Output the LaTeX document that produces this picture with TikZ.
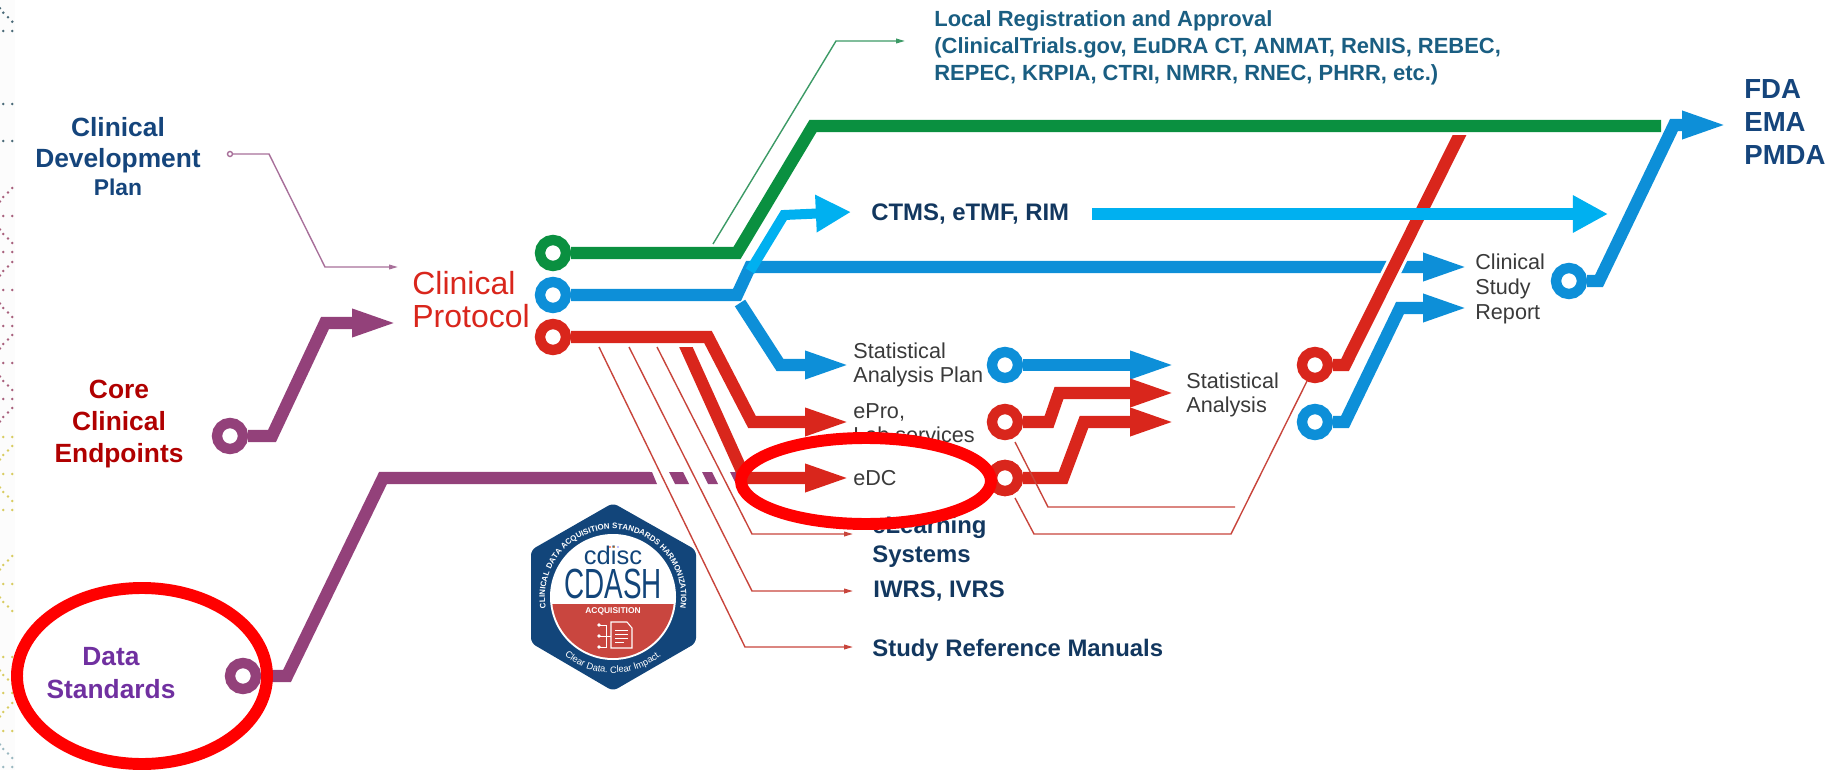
\documentclass[tikz,border=0pt]{standalone}
\usepackage{fontspec}
\setmainfont{Liberation Sans}
\usetikzlibrary{arrows.meta,decorations.text}
\definecolor{trackgreen}{HTML}{0A9040}
\definecolor{trackblue}{HTML}{0D8FD8}
\definecolor{trackcyan}{HTML}{00B0F0}
\definecolor{trackred}{HTML}{D9261C}
\definecolor{trackpurple}{HTML}{93417A}
\definecolor{thinred}{HTML}{C8453C}
\definecolor{thingreen}{HTML}{3C9A66}
\definecolor{thinpurple}{HTML}{A8709A}
\definecolor{labelgray}{HTML}{3A3A3A}
\definecolor{labelnavy}{HTML}{12375F}
\definecolor{labelteal}{HTML}{1A5E82}
\definecolor{labelblue}{HTML}{15457C}
\definecolor{labelcrimson}{HTML}{B00000}
\definecolor{labelviolet}{HTML}{7030A0}
\definecolor{cdashnavy}{HTML}{12457A}
\definecolor{cdashred}{HTML}{C9463F}
\definecolor{stripteal}{HTML}{4A6A78}
\definecolor{stripmaroon}{HTML}{A8607C}
\definecolor{stripyellow}{HTML}{D8CC60}
\definecolor{strippale}{HTML}{9AB8C0}
\tikzset{
  ringnode/.style={circle,draw=#1,fill=white,line width=5.9pt,minimum size=0.52cm,inner sep=0pt},
  fatline/.style={draw=#1,line width=7pt},
  thinline/.style={draw=#1,line width=0.8pt},
  bigtip/.style={-{Triangle[length=26.7pt,width=14pt]}},
  cyantip/.style={-{Triangle[length=20pt,width=20pt]}},
  smalltip/.style={-{Triangle[length=5pt,width=2.6pt]}},
  graylabel/.style={anchor=west,align=left,inner sep=0pt,text=labelgray,font=\fontsize{12.3pt}{14pt}\selectfont},
  navylabel/.style={anchor=west,align=left,inner sep=0pt,text=labelnavy,font=\fontsize{13.6pt}{16.4pt}\selectfont\bfseries},
  sidelabel/.style={align=center,inner sep=0pt,text=#1,font=\fontsize{15pt}{18.3pt}\selectfont\bfseries},
  redloop/.style={draw=red,line width=6.8pt}
}
\begin{document}
\begin{tikzpicture}[x=0.02cm,y=-0.02cm]
  \useasboundingbox (0,0) rectangle (1829,770);
  \fill [black!1!white] (0,0) rectangle (15,770);
  \foreach \dotcol/\ya in {stripteal/31,stripteal/104,stripteal/141,stripmaroon/216,stripmaroon/252,stripmaroon/290,stripmaroon/326,stripmaroon/363,stripmaroon/399,stripyellow/437,stripyellow/474,stripyellow/510,stripyellow/584,stripyellow/657,stripyellow/693,stripyellow/731,strippale/767}
    \fill [\dotcol] (3.3,\ya) circle (1.4) (12.3,\ya) circle (1.4);
  \foreach \dotcol/\ya in {stripteal/12.7,stripmaroon/234,stripmaroon/308,stripmaroon/381,stripyellow/492,stripyellow/602,stripyellow/675,strippale/749}
    \fill [\dotcol] (0,\ya-4.5) circle (1.4) (3.3,\ya) circle (1.4) (8,\ya+4.5) circle (1.4) (12.3,\ya+9) circle (1.4);
  \foreach \dotcol/\ya in {stripmaroon/188,stripmaroon/262,stripmaroon/335,stripmaroon/408,stripyellow/446,stripyellow/556,stripyellow/703}
    \fill [\dotcol] (12.3,\ya) circle (1.4) (8,\ya+4.5) circle (1.4) (3.3,\ya+9) circle (1.4) (0,\ya+13.5) circle (1.4);

  \node [sidelabel=labelblue] (cdp) at (118,157) {Clinical\\[-1pt]Development\\[-2pt]{\fontsize{13pt}{16pt}\selectfont Plan}};
  \node [sidelabel=labelcrimson] (core) at (119,424) {Core\\Clinical\\Endpoints};
  \node [sidelabel=labelviolet] (datastd) at (111,673) {Data\\Standards};
  \node [anchor=west,align=left,inner sep=0pt,text=trackred,font=\fontsize{18.2pt}{18.8pt}\selectfont] (protocol) at (412,300) {Clinical\\Protocol};
  \node [anchor=west,align=left,inner sep=0pt,text=labelteal,font=\fontsize{12.5pt}{15.4pt}\selectfont\bfseries] (localreg) at (934,48) {Local Registration and Approval\\(ClinicalTrials.gov, EuDRA CT, ANMAT, ReNIS, REBEC,\\REPEC, KRPIA, CTRI, NMRR, RNEC, PHRR, etc.)};
  \node [anchor=west,align=left,inner sep=0pt,text=labelblue,font=\fontsize{15.7pt}{18.6pt}\selectfont\bfseries] (regulators) at (1744,122) {FDA\\EMA\\PMDA};
  \node [navylabel] (ctms) at (871,214) {CTMS, eTMF, RIM};
  \node [graylabel] (sap) at (853,365) {Statistical\\Analysis Plan};
  \node [graylabel] (epro) at (853,423) {ePro,\\Lab services};
  \node [graylabel] (edc) at (853,478) {eDC};
  \node [navylabel] (elearn) at (872,542) {eLearning\\Systems};
  \node [navylabel] (iwrs) at (873,591) {IWRS, IVRS};
  \node [navylabel] (srm) at (872,650) {Study Reference Manuals};
  \node [graylabel] (stats) at (1186,395) {Statistical\\Analysis};
  \node [graylabel] (csr) at (1475,289) {Clinical\\Study\\Report};

  \node [ringnode=thinpurple,line width=0.8pt,minimum size=0.1cm] (cdpring) at (230,154) {};
  \node [ringnode=trackpurple] (corering) at (230,436) {};
  \node [ringnode=trackpurple] (datastdring) at (243,676) {};
  \node [ringnode=trackgreen] (greenring) at (553,253) {};
  \node [ringnode=trackblue] (bluering) at (553,295) {};
  \node [ringnode=trackred] (redring) at (553,337) {};
  \node [ringnode=trackblue] (sapring) at (1005,365) {};
  \node [ringnode=trackred] (eproring) at (1005,422) {};
  \node [ringnode=trackred] (edcring) at (1005,478) {};
  \node [ringnode=trackred] (statsredring) at (1315,365) {};
  \node [ringnode=trackblue] (statsbluering) at (1315,422) {};
  \node [ringnode=trackblue] (csrring) at (1569,281) {};

  \coordinate (cdptip) at (398,267);
  \coordinate (coretip) at (399,323);
  \coordinate (localtip) at (905,41);
  \coordinate (localfoot) at (713,244);
  \coordinate (greenend) at (1661,126);
  \coordinate (ctmstip) at (851,212);
  \coordinate (ctmsout) at (1092,214);
  \coordinate (ctmsend) at (1608,214);
  \coordinate (csrtipa) at (1470,267);
  \coordinate (csrtipb) at (1470,308);
  \coordinate (regtip) at (1729,125);
  \coordinate (saptip) at (852,365);
  \coordinate (eprotip) at (852,422);
  \coordinate (edctip) at (852,478);
  \coordinate (statstipa) at (1177,365);
  \coordinate (statstipb) at (1177,393);
  \coordinate (statstipc) at (1177,422);
  \coordinate (elearntip) at (853,534);
  \coordinate (iwrstip) at (853,591);
  \coordinate (srmtip) at (853,647);
  \coordinate (eproend) at (1235,507);

  \draw [thinline=thinpurple,smalltip] (cdpring) -- (269,154) -- (325,267) -- (cdptip);
  \draw [fatline=trackpurple,bigtip] (corering) -- (272,436) -- (325,323) -- (coretip);
  \draw [fatline=trackpurple] (datastdring) -- (287,676) -- (383,478) -- (650,478);
  \fill [trackpurple] (650,472) -- (652,472) -- (657,484) -- (650,484) -- cycle;
  \fill [trackpurple] (669,472) -- (683,472) -- (689,484) -- (675,484) -- cycle;
  \fill [trackpurple] (702,472) -- (712,472) -- (718,484) -- (708,484) -- cycle;
  \fill [trackpurple] (730,472) -- (740,472) -- (746,484) -- (736,484) -- cycle;

  \draw [thinline=thingreen,smalltip] (localfoot) -- (836,41) -- (localtip);
  \draw [fatline=trackgreen] (greenring) -- (737,253) -- (813,126) -- (greenend);

  \draw [fatline=trackblue,bigtip] (bluering) -- (737,295) -- (750,267) -- (csrtipa);
  \draw [fatline=trackblue,bigtip] (740,303) -- (780,365) -- (saptip);
  \draw [fatline=trackcyan,line width=5.7pt,cyantip] (750,271) -- (784,215) -- (ctmstip);

  \draw [thinline=thinred,smalltip] (599,347) -- (745,647) -- (srmtip);
  \draw [thinline=thinred,smalltip] (629,347) -- (752,591) -- (iwrstip);
  \draw [thinline=thinred,smalltip] (657,347) -- (752,534) -- (elearntip);
  \draw [fatline=trackred,bigtip] (redring) -- (708,337) -- (752,422) -- (eprotip);
  \begin{scope}
    \clip (650,347) rectangle (860,500);
    \draw [fatline=trackred,bigtip] (676,325) -- (745,478) -- (edctip);
  \end{scope}

  \draw [fatline=trackblue,bigtip] (sapring) -- (statstipa);
  \draw [fatline=trackred,bigtip] (eproring) -- (1049,422) -- (1059,393) -- (statstipb);
  \draw [fatline=trackred,bigtip] (edcring) -- (1063,478) -- (1084,422) -- (statstipc);
  \draw [thinline=thinred] (1015,442) -- (1048,507) -- (eproend);
  \draw [thinline=thinred] (1015,498) -- (1034,534) -- (1231,534) -- (statsredring);
  \node [ringnode=trackred] at (edcring) {};

  \draw [fatline=trackblue,bigtip] (statsbluering) -- (1345,422) -- (1400,308) -- (csrtipb);
  \begin{scope}
    \clip (1300,136) rectangle (1500,400);
    \draw [fatline=trackred,preaction={draw=white,line width=10.5pt}] (statsredring) -- (1345,365) -- (1470,114);
  \end{scope}
  \draw [fatline=trackcyan,cyantip] (ctmsout) -- (ctmsend);
  \draw [fatline=trackblue,bigtip] (csrring) -- (1599,281) -- (1674,125) -- (regtip);

  \fill [cdashnavy,rounded corners=3] (613,503) -- (696,550) -- (696,643) -- (613,691) -- (531,643) -- (531,550) -- cycle;
  \fill [white] (613,597) circle (63);
  \begin{scope}
    \clip (540,604) rectangle (690,670);
    \fill [cdashred] (613,597) circle (61);
  \end{scope}
  \path [decorate,decoration={text along path,text align=center,text={|\fontsize{4.5pt}{5pt}\selectfont\bfseries\color{white}|CLINICAL DATA ACQUISITION STANDARDS HARMONIZATION}}] (613,597) ++(162:68) arc (162:378:68);
  \path [decorate,decoration={text along path,text align=center,text={|\fontsize{5.3pt}{6pt}\selectfont\color{white}|Clear Data. Clear Impact.}}] (613,597) ++(142:76) arc (142:38:76);
  \node [inner sep=0pt,text=cdashnavy,font=\fontsize{14.5pt}{15pt}\selectfont] (cdisc) at (613,555) {cdisc};
  \node [inner sep=0pt,text=cdashnavy,font=\fontsize{24pt}{25pt}\selectfont] (cdash) at (613,584) {\scalebox{0.66}[1]{CDASH}};
  \node [inner sep=0pt,text=white,font=\fontsize{4.8pt}{5pt}\selectfont\bfseries] (acquisition) at (613,611) {ACQUISITION};
  \fill [red!70!orange] (610,547) circle (0.8);
  \fill [orange] (614,547) circle (0.8);
  \fill [blue!50!white] (618,547) circle (0.8);
  \draw [white,line width=0.6pt] (611,622) -- (627,622) -- (632,628) -- (632,648) -- (611,648) -- cycle;
  \draw [white,line width=0.5pt] (615,630) -- (628,630) (615,634) -- (628,634) (615,638) -- (628,638) (615,642) -- (624,642);
  \draw [white,line width=0.5pt] (600,625) -- (606,625) -- (606,647) -- (600,647) (600,636) -- (611,636);
  \fill [white] (599,625) circle (1.8) (599,636) circle (1.8) (599,647) circle (1.8);

  \draw [redloop] (866,481) ellipse [x radius=125,y radius=43];
  \draw [redloop] (142,676) ellipse [x radius=125,y radius=88];
\end{tikzpicture}
\end{document}
